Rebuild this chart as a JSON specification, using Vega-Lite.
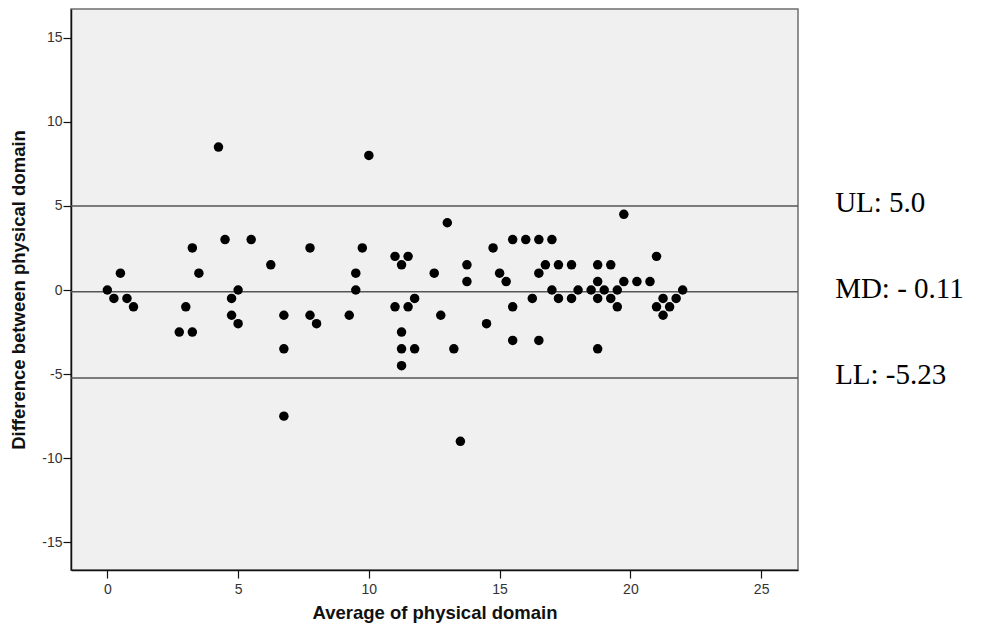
{
  "$schema": "https://vega.github.io/schema/vega-lite/v6.json",
  "width": 727,
  "height": 561,
  "autosize": {"type": "none"},
  "padding": {"left": 71, "top": 9, "right": 183, "bottom": 60},
  "background": "white",
  "config": {
    "view": {"fill": "#f0f0f0", "stroke": "#6e6e6e", "strokeWidth": 1.5}
  },
  "datasets": {
    "points": [
      {"avg": 0, "diff": 0}, {"avg": 0.25, "diff": -0.5}, {"avg": 0.5, "diff": 1}, {"avg": 0.75, "diff": -0.5},
      {"avg": 1, "diff": -1}, {"avg": 2.75, "diff": -2.5}, {"avg": 3, "diff": -1}, {"avg": 3.25, "diff": 2.5},
      {"avg": 3.25, "diff": -2.5}, {"avg": 3.5, "diff": 1}, {"avg": 4.25, "diff": 8.5}, {"avg": 4.5, "diff": 3},
      {"avg": 4.75, "diff": -0.5}, {"avg": 4.75, "diff": -1.5}, {"avg": 5, "diff": 0}, {"avg": 5, "diff": -2},
      {"avg": 5.5, "diff": 3}, {"avg": 6.25, "diff": 1.5}, {"avg": 6.75, "diff": -1.5}, {"avg": 6.75, "diff": -3.5},
      {"avg": 6.75, "diff": -7.5}, {"avg": 7.75, "diff": 2.5}, {"avg": 7.75, "diff": -1.5}, {"avg": 8, "diff": -2},
      {"avg": 9.25, "diff": -1.5}, {"avg": 9.5, "diff": 1}, {"avg": 9.5, "diff": 0}, {"avg": 9.75, "diff": 2.5},
      {"avg": 10, "diff": 8}, {"avg": 11, "diff": 2}, {"avg": 11.5, "diff": 2}, {"avg": 11.25, "diff": 1.5},
      {"avg": 11, "diff": -1}, {"avg": 11.5, "diff": -1}, {"avg": 11.75, "diff": -0.5}, {"avg": 11.25, "diff": -2.5},
      {"avg": 11.25, "diff": -3.5}, {"avg": 11.75, "diff": -3.5}, {"avg": 11.25, "diff": -4.5}, {"avg": 12.5, "diff": 1},
      {"avg": 12.75, "diff": -1.5}, {"avg": 13, "diff": 4}, {"avg": 13.25, "diff": -3.5}, {"avg": 13.5, "diff": -9},
      {"avg": 13.75, "diff": 1.5}, {"avg": 13.75, "diff": 0.5}, {"avg": 14.5, "diff": -2}, {"avg": 14.75, "diff": 2.5},
      {"avg": 15, "diff": 1}, {"avg": 15.25, "diff": 0.5}, {"avg": 15.5, "diff": 3}, {"avg": 15.5, "diff": -1},
      {"avg": 15.5, "diff": -3}, {"avg": 16, "diff": 3}, {"avg": 16.25, "diff": -0.5}, {"avg": 16.5, "diff": 3},
      {"avg": 16.5, "diff": 1}, {"avg": 16.5, "diff": -3}, {"avg": 16.75, "diff": 1.5}, {"avg": 17, "diff": 3},
      {"avg": 17, "diff": 0}, {"avg": 17.25, "diff": 1.5}, {"avg": 17.25, "diff": -0.5}, {"avg": 17.75, "diff": 1.5},
      {"avg": 17.75, "diff": -0.5}, {"avg": 18, "diff": 0}, {"avg": 18.5, "diff": 0}, {"avg": 18.75, "diff": 1.5},
      {"avg": 18.75, "diff": 0.5}, {"avg": 18.75, "diff": -0.5}, {"avg": 18.75, "diff": -3.5}, {"avg": 19, "diff": 0},
      {"avg": 19.25, "diff": 1.5}, {"avg": 19.25, "diff": -0.5}, {"avg": 19.5, "diff": 0}, {"avg": 19.5, "diff": -1},
      {"avg": 19.75, "diff": 4.5}, {"avg": 19.75, "diff": 0.5}, {"avg": 20.25, "diff": 0.5}, {"avg": 20.75, "diff": 0.5},
      {"avg": 21, "diff": 2}, {"avg": 21, "diff": -1}, {"avg": 21.25, "diff": -0.5}, {"avg": 21.25, "diff": -1.5},
      {"avg": 21.5, "diff": -1}, {"avg": 21.75, "diff": -0.5}, {"avg": 22, "diff": 0}
    ],
    "limits": [
      {"name": "UL", "value": 5.0, "label": "UL: 5.0"},
      {"name": "MD", "value": -0.11, "label": "MD: - 0.11"},
      {"name": "LL", "value": -5.23, "label": "LL: -5.23"}
    ]
  },
  "layer": [
    {
      "data": {"name": "limits"},
      "mark": {"type": "rule", "color": "#555555", "strokeWidth": 1.5},
      "encoding": {
        "y": {"field": "value", "type": "quantitative", "scale": {"domain": [-16.65, 16.71], "nice": false, "zero": false}}
      }
    },
    {
      "data": {"name": "points"},
      "mark": {"type": "point", "shape": "circle", "filled": true, "color": "#000000", "opacity": 1, "size": 90},
      "encoding": {
        "x": {
          "field": "avg", "type": "quantitative",
          "scale": {"domain": [-1.39, 26.41], "nice": false, "zero": false},
          "axis": {
            "values": [0, 5, 10, 15, 20, 25], "title": "Average of physical domain",
            "labelFont": "Liberation Sans", "labelFontSize": 14, "labelColor": "#333333",
            "labelExpr": "replace(datum.label, '\u2212', '-')",
            "labelPadding": 4, "titlePadding": 7,
            "titleFont": "Liberation Sans", "titleFontSize": 18.5, "titleFontWeight": "bold", "titleColor": "#111111",
            "domainColor": "#111111", "domainWidth": 1.5, "tickColor": "#111111", "tickWidth": 1.2, "tickSize": 8, "grid": false
          }
        },
        "y": {
          "field": "diff", "type": "quantitative",
          "scale": {"domain": [-16.65, 16.71], "nice": false, "zero": false},
          "axis": {
            "values": [-15, -10, -5, 0, 5, 10, 15], "title": "Difference between physical domain",
            "labelFont": "Liberation Sans", "labelFontSize": 14, "labelColor": "#333333",
            "labelExpr": "replace(datum.label, '\u2212', '-')",
            "labelPadding": 1, "titlePadding": 13,
            "titleFont": "Liberation Sans", "titleFontSize": 18.5, "titleFontWeight": "bold", "titleColor": "#111111",
            "domainColor": "#111111", "domainWidth": 1.5, "tickColor": "#111111", "tickWidth": 1.2, "tickSize": 8, "grid": false
          }
        }
      }
    },
    {
      "data": {"name": "limits"},
      "mark": {"type": "text", "font": "Liberation Serif", "fontSize": 29, "align": "left", "baseline": "middle", "dy": -3, "color": "#000000"},
      "encoding": {
        "x": {"datum": 27.83, "type": "quantitative"},
        "y": {"field": "value", "type": "quantitative"},
        "text": {"field": "label"}
      }
    }
  ]
}
